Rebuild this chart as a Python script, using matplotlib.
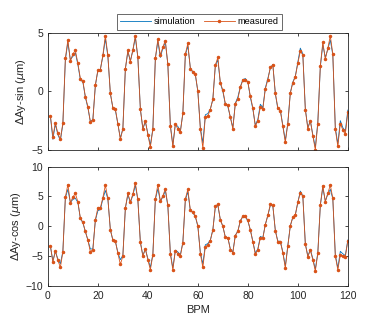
import numpy as np
import matplotlib
matplotlib.use('Agg')
import matplotlib.pyplot as plt

plt.rcParams['font.family'] = ['Liberation Sans', 'DejaVu Sans']
plt.rcParams['mathtext.fontset'] = 'dejavusans'

bpm = list(range(1, 121))

sin_meas = [-2.07, -3.86, -2.7, -3.6, -4.1, -2.7, 2.83, 4.4, 2.6, 3.2,
            3.5, 2.4, 1.1, 0.9, -0.45, -1.3, -2.6, -2.45, 0.55, 1.8,
            1.85, 3.1, 4.77, 3.1, -0.15, -1.4, -1.5, -2.75, -4.1, -3.2,
            1.95, 3.5, 2.55, 3.55, 4.77, 2.9, -1.5, -3.2, -2.5, -3.7,
            -4.77, -3.25, 2.83, 4.45, 3.1, 3.8, 4.35, 2.3, -2.95, -4.7,
            -2.75, -3.25, -3.5, -1.85, 3.2, 4.1, 1.95, 1.7, 1.5, 0.0,
            -3.2, -4.85, -2.15, -2.1, -1.55, -0.65, 2.25, 2.9, 0.75, 0.1,
            -1.05, -1.2, -2.2, -3.2, -1.05, -0.65, 0.35, 0.95, 1.0, 0.8,
            -0.4, -1.4, -3.0, -2.5, -1.35, -1.5, 0.2, 1.0, 2.05, 2.25,
            -0.15, -1.4, -1.65, -3.0, -4.35, -2.75, -0.15, 0.75, 1.25, 2.4,
            3.45, 3.1, -1.55, -3.2, -2.5, -3.8, -5.0, -2.75, 2.2, 4.2,
            2.75, 3.7, 4.75, 3.2, -3.25, -4.7, -2.75, -3.3, -3.65, -1.8]

# simulation (blue line), close to measured
sin_sim = [-2.1, -4.1, -2.8, -3.7, -4.2, -2.8, 2.7, 4.2, 2.7, 3.0,
           3.3, 2.3, 1.0, 0.8, -0.5, -1.4, -2.6, -2.4, 0.5, 1.8,
           1.9, 3.0, 4.5, 3.0, -0.2, -1.4, -1.6, -2.8, -4.0, -3.2,
           1.9, 3.4, 2.6, 3.5, 4.6, 2.9, -1.5, -3.2, -2.6, -3.6,
           -4.6, -3.2, 2.8, 4.3, 2.9, 3.7, 4.2, 2.3, -2.9, -4.6,
           -2.8, -3.0, -3.4, -1.9, 3.1, 3.9, 2.0, 1.6, 1.4, 0.0,
           -3.1, -4.4, -2.0, -1.9, -1.5, -0.7, 2.2, 2.7, 0.7, 0.0,
           -1.1, -1.3, -2.2, -3.1, -1.0, -0.5, 0.4, 1.0, 1.1, 0.8,
           -0.5, -1.5, -2.9, -2.4, -1.1, -1.4, 0.3, 1.1, 2.0, 2.3,
           -0.2, -1.5, -1.6, -2.9, -4.2, -2.7, -0.1, 0.8, 1.3, 2.5,
           3.7, 3.2, -1.5, -3.1, -2.5, -3.7, -4.8, -2.6, 2.1, 4.0,
           2.9, 3.6, 4.4, 3.1, -3.1, -4.5, -2.5, -3.1, -3.4, -1.6]

cos_meas = [-3.25, -6.0, -4.15, -5.7, -6.9, -4.3, 4.9, 7.0, 3.95, 4.9,
            5.5, 4.1, 1.4, 0.65, -0.85, -2.3, -4.3, -3.9, 1.1, 3.1,
            3.1, 4.8, 6.9, 4.7, -0.6, -2.3, -2.5, -4.5, -6.4, -5.0,
            3.1, 5.5, 4.1, 5.4, 7.3, 4.5, -2.7, -5.0, -3.8, -5.6,
            -7.3, -4.8, 4.6, 7.0, 4.25, 5.1, 6.3, 3.5, -4.6, -7.3,
            -4.1, -4.6, -5.0, -2.75, 4.6, 6.2, 2.7, 2.35, 1.7, 0.1,
            -4.6, -6.9, -3.4, -3.15, -2.4, -0.6, 3.4, 3.7, 1.1, 0.0,
            -1.85, -1.9, -3.9, -4.45, -1.55, -0.85, 0.95, 1.7, 1.7, 1.0,
            -0.6, -2.6, -4.7, -3.9, -2.0, -2.0, 0.3, 1.85, 3.7, 3.5,
            -0.75, -2.6, -2.6, -4.45, -7.0, -3.3, 0.1, 1.55, 1.95, 4.05,
            5.65, 5.0, -3.0, -5.1, -4.0, -5.6, -7.5, -4.55, 3.6, 6.8,
            4.15, 5.55, 6.9, 4.7, -5.0, -7.3, -4.8, -5.0, -5.1, -2.45]

cos_sim = [-3.3, -5.8, -4.2, -5.5, -6.3, -4.2, 4.8, 6.2, 4.0, 4.5,
           4.7, 4.0, 1.3, 0.6, -0.9, -2.3, -3.8, -3.8, 1.0, 2.6,
           2.8, 4.6, 6.0, 4.6, -0.6, -2.3, -2.5, -4.4, -5.6, -4.9,
           3.0, 5.3, 4.0, 5.2, 6.9, 4.4, -2.6, -4.9, -3.8, -5.4,
           -6.9, -4.7, 4.5, 6.3, 4.2, 4.9, 6.0, 3.4, -4.5, -7.0,
           -4.0, -4.3, -4.8, -2.7, 4.4, 5.8, 2.6, 2.3, 1.6, 0.0,
           -4.4, -6.3, -3.1, -2.9, -2.3, -0.6, 3.2, 3.5, 1.1, 0.0,
           -1.8, -1.9, -3.8, -4.3, -1.5, -0.8, 0.9, 1.6, 1.6, 0.9,
           -0.6, -2.5, -4.5, -3.8, -1.7, -1.9, 0.3, 1.8, 3.5, 3.4,
           -0.7, -2.5, -2.5, -4.3, -6.7, -3.2, 0.1, 1.5, 1.9, 4.0,
           5.9, 5.1, -2.9, -5.0, -3.9, -5.4, -7.2, -4.4, 3.5, 6.5,
           4.2, 5.4, 6.2, 4.6, -4.8, -7.0, -4.2, -4.6, -4.9, -2.3]

blue = '#0072BD'
orange = '#D95319'
axcol = '#262626'

fig = plt.figure(figsize=(3.74, 3.36), dpi=100)
ax1 = fig.add_axes([0.128, 0.554, 0.802, 0.348])
ax2 = fig.add_axes([0.128, 0.149, 0.802, 0.355])


def style(ax, ylim, yticks):
    ax.set_xlim(0, 120)
    ax.set_ylim(*ylim)
    ax.set_xticks(range(0, 121, 20))
    ax.set_yticks(yticks)
    ax.tick_params(direction='in', length=2.5, width=0.6, labelsize=7.5,
                   colors=axcol, top=True, right=True, pad=3.5)
    for s in ax.spines.values():
        s.set_linewidth(0.6)
        s.set_color(axcol)


ax1.plot(bpm, sin_sim, color=blue, lw=0.6, label='simulation')
ax1.plot(bpm, sin_meas, color=orange, lw=0.6, marker='.', ms=3,
         label='measured')
style(ax1, (-5, 5), [-5, 0, 5])
ax1.set_xticklabels([])
ax1.set_ylabel(r'ΔAy-sin ($\mu$m)', fontsize=8, color=axcol, labelpad=2)

ax2.plot(bpm, cos_sim, color=blue, lw=0.6)
ax2.plot(bpm, cos_meas, color=orange, lw=0.6, marker='.', ms=3)
style(ax2, (-10, 10), [-10, -5, 0, 5, 10])
ax2.set_ylabel(r'ΔAy-cos ($\mu$m)', fontsize=8, color=axcol, labelpad=2)
ax2.set_xlabel('BPM', fontsize=8, color=axcol, labelpad=3)

leg = ax1.legend(loc='center', bbox_to_anchor=(0.505, 1.095), ncol=2,
                 fontsize=6.6, frameon=True, fancybox=False,
                 handlelength=3.4, columnspacing=0.9, borderpad=0.35,
                 handletextpad=0.3, borderaxespad=0)
leg.get_frame().set_edgecolor(axcol)
leg.get_frame().set_linewidth(0.6)

fig.savefig('out.png', dpi=100)
